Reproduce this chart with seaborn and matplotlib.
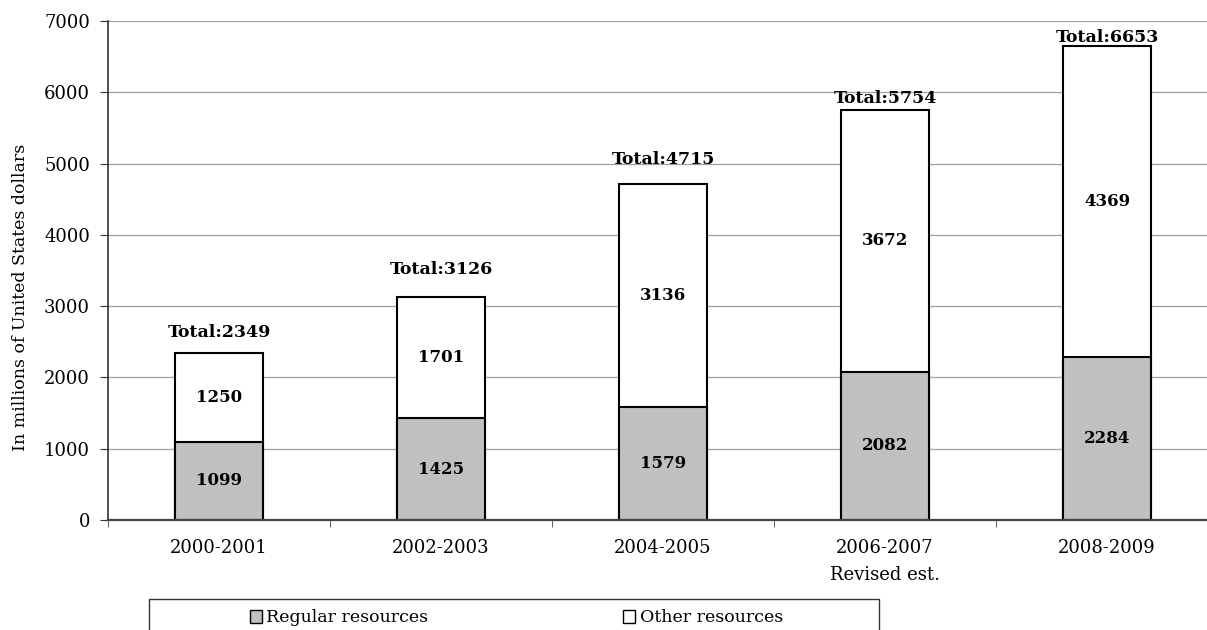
import matplotlib
matplotlib.use("Agg")
import matplotlib.pyplot as plt
import seaborn as sns
import pandas as pd
from matplotlib.patches import Rectangle, Patch

categories = ["2000-2001", "2002-2003", "2004-2005", "2006-2007", "2008-2009"]
regular = [1099, 1425, 1579, 2082, 2284]
other = [1250, 1701, 3136, 3672, 4369]
totals = [2349, 3126, 4715, 5754, 6653]
yticks = [0, 1000, 2000, 3000, 4000, 5000, 6000, 7000]

# style: gap (points) between bar top and total label baseline
total_gap_pt = [11, 17, 14, 5, 3]

sns.set_style("white")
plt.rcParams["font.family"] = ["DejaVu Serif"]
plt.rcParams["text.color"] = "black"
plt.rcParams["axes.labelcolor"] = "black"
plt.rcParams["xtick.color"] = "black"
plt.rcParams["ytick.color"] = "black"

df = pd.DataFrame({"cat": categories, "regular": regular, "other": other, "total": totals})

fig = plt.figure(figsize=(12.07, 6.30), dpi=100)
ax = fig.add_axes([108/1207, 1-520/630, (1218-108)/1207, (520-21)/630])

ax.set_axisbelow(True)
ax.yaxis.grid(True, color="#a0a0a0", linewidth=0.9)

sns.barplot(data=df, x="cat", y="total", color="white", edgecolor="black",
            linewidth=1.5, width=0.4, ax=ax, saturation=1)
sns.barplot(data=df, x="cat", y="regular", color="#C0C0C0", edgecolor="black",
            linewidth=1.5, width=0.4, ax=ax, saturation=1)

for i in range(len(categories)):
    ax.text(i, regular[i] / 2, str(regular[i]), ha="center", va="center",
            fontsize=12, fontweight="bold", color="black")
    ax.text(i, regular[i] + other[i] / 2, str(other[i]), ha="center", va="center",
            fontsize=12, fontweight="bold", color="black")
    ax.annotate(f"Total:{totals[i]}", xy=(i, totals[i]), xytext=(0, total_gap_pt[i]),
                textcoords="offset points", ha="center", va="baseline",
                fontsize=12.5, fontweight="bold", color="black")

ax.set_ylim(0, 7000)
ax.set_xlim(-0.5, 4.5)
ax.set_yticks(yticks)
ax.set_yticklabels([str(v) for v in yticks], fontsize=13)
ax.set_xticks(range(len(categories)))
ax.set_xticklabels(categories, fontsize=13)
ax.set_xticks([i + 0.5 for i in range(-1, len(categories))], minor=True)
ax.tick_params(axis="x", which="major", length=0, pad=14, labelcolor="black")
ax.tick_params(axis="x", which="minor", length=5, direction="out", color="#444444", bottom=True)
ax.tick_params(axis="y", which="major", length=6, direction="out", left=True,
               color="#333333", pad=7, labelcolor="black")
ax.set_xlabel("")
ax.set_ylabel("")
fig.text(21/1207, 1-297/630, "In millions of United States dollars", rotation=90,
         ha="center", va="center", fontsize=12.5, color="black")

for s in ["top", "right"]:
    ax.spines[s].set_visible(False)
ax.spines["left"].set_color("#333333")
ax.spines["bottom"].set_color("#444444")
ax.spines["left"].set_linewidth(1.2)
ax.spines["bottom"].set_linewidth(1.6)

ax.text(3, -0.110, "Revised est.", transform=ax.get_xaxis_transform(), ha="center",
        va="center", fontsize=13, color="black")

# legend frame
fig.patches.append(Rectangle((149/1207, -0.05), 730/1207, 0.05 + (630-599)/630,
                             transform=fig.transFigure, fill=False,
                             edgecolor="#333333", linewidth=1.0))
handles = [Patch(facecolor="#C0C0C0", edgecolor="black", label="Regular resources"),
           Patch(facecolor="white", edgecolor="black", label="Other resources")]
fig.legend(handles=handles, loc="center left", bbox_to_anchor=(250/1207, 1-618/630),
           ncol=2, frameon=False, fontsize=12.5, handlelength=0.7, handleheight=0.7,
           handletextpad=0.25, columnspacing=11.2, borderpad=0, borderaxespad=0,
           labelcolor="black")

fig.savefig("out.png", dpi=100)
